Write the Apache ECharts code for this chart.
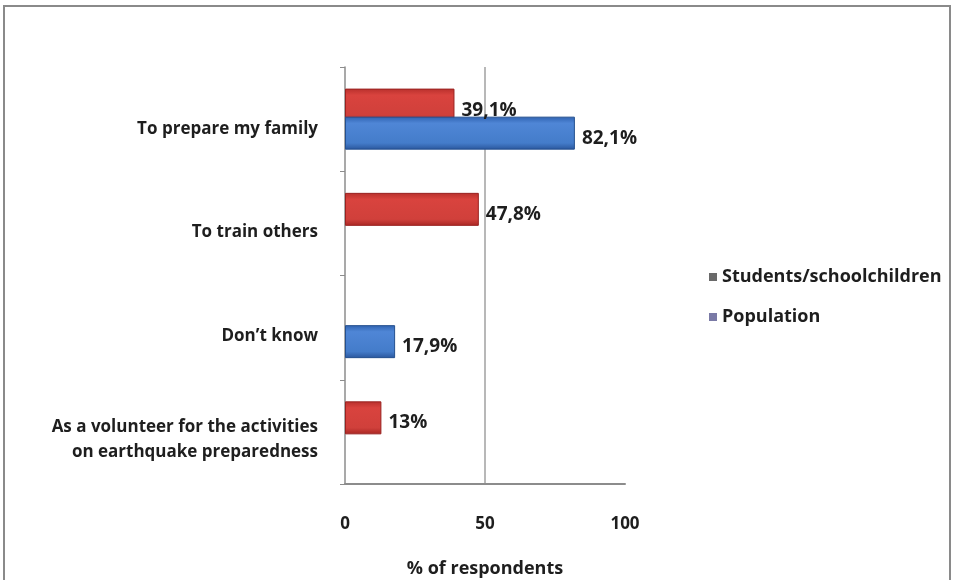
<!DOCTYPE html>
<html>
<head>
<meta charset="utf-8">
<script src="https://cdn.jsdelivr.net/npm/echarts@6/dist/echarts.min.js"></script>
<style>
html, body { margin: 0; padding: 0; background: #fff; }
#frame { position: absolute; left: 3px; top: 5px; width: 944px; height: 600px; border: 2px solid #8a8a8a; border-bottom: none; }
#chart { position: absolute; left: 0; top: 0; width: 954px; height: 580px; }
</style>
</head>
<body>
<div id="frame"></div>
<div id="chart"></div>
<script>
var categories = ['To prepare my family', 'To train others', 'Don\u2019t know', 'As a volunteer for the activities\non earthquake preparedness'];
var students = [39.1, 47.8, null, 13];
var population = [82.1, null, 17.9, null];
var xTicks = [0, 50, 100];

var chart = echarts.init(document.getElementById('chart'));

function pct(p) {
	return String(p.value).replace('.', ',') + '%';
}

var font = '"Open Sans", Lato, sans-serif';
var ink = '#1e1e1e';

var option = {
	backgroundColor: 'transparent',
	animation: false,
	textStyle: { fontFamily: font },
	legend: [
		{
			orient: 'vertical',
			left: 704,
			top: 263,
			itemWidth: 8,
			itemHeight: 8,
			icon: 'rect',
			itemStyle: { color: '#6a6a6a', borderWidth: 0 },
			textStyle: { fontSize: 18, fontWeight: 'bold', color: ink, fontFamily: font },
			data: ['Students/schoolchildren']
		},
		{
			orient: 'vertical',
			left: 704,
			top: 303,
			itemWidth: 8,
			itemHeight: 8,
			icon: 'rect',
			itemStyle: { color: '#7a7aa6', borderWidth: 0 },
			textStyle: { fontSize: 18, fontWeight: 'bold', color: ink, fontFamily: font },
			data: ['Population']
		}
	],
	grid: [
		{ left: 345, right: 329, top: 67, bottom: 96, containLabel: false, outerBoundsMode: 'none' },
		{ left: 345, right: 329, top: 77, height: 414, containLabel: false, outerBoundsMode: 'none' }
	],
	xAxis: [
		{
			type: 'value',
			gridIndex: 0,
			min: 0,
			max: 100,
			interval: 50,
			axisLine: { show: true, lineStyle: { color: '#8c8c8c', width: 2 } },
			axisTick: { show: false },
			axisLabel: { margin: 32, fontSize: 17, fontWeight: 'bold', color: ink,
				formatter: function (v) { return xTicks.indexOf(v) >= 0 ? String(v) : ''; } },
			splitLine: { show: true, showMinLine: false, showMaxLine: false, lineStyle: { color: '#b8b8b8', width: 2 } },
			name: '% of respondents',
			nameLocation: 'middle',
			nameGap: 76,
			nameTextStyle: { fontSize: 18, fontWeight: 'bold', color: ink }
		},
		{ type: 'value', gridIndex: 1, min: 0, max: 100, show: false }
	],
	yAxis: [
		{
			type: 'category',
			gridIndex: 0,
			inverse: true,
			data: categories,
			axisLine: { show: true, lineStyle: { color: '#8c8c8c', width: 1.5 } },
			axisTick: { show: true, length: 5, lineStyle: { color: '#8c8c8c' } },
			axisLabel: { show: false }
		},
		{
			type: 'category',
			gridIndex: 1,
			inverse: true,
			data: categories,
			axisLine: { show: false },
			axisTick: { show: false },
			splitLine: { show: false },
			axisLabel: { margin: 27, fontSize: 17, fontWeight: 'bold', color: ink, lineHeight: 25, align: 'right' }
		}
	],
	series: [
		{
			name: 'Students/schoolchildren',
			type: 'bar',
			data: students,
			barWidth: 33,
			barGap: '-15%',
			itemStyle: {
				color: new echarts.graphic.LinearGradient(0, 0, 0, 1, [
					{ offset: 0, color: '#b8302c' },
					{ offset: 0.2, color: '#d9433e' },
					{ offset: 0.8, color: '#d0403b' },
					{ offset: 1, color: '#a82623' }
				]),
				borderColor: '#9a2220',
				borderWidth: 1
			},
			label: { show: true, position: 'right', distance: 7, offset: [0, 5], formatter: pct,
				fontSize: 19, fontWeight: 'bold', color: ink }
		},
		{
			name: 'Population',
			type: 'bar',
			data: population,
			barWidth: 33,
			itemStyle: {
				color: new echarts.graphic.LinearGradient(0, 0, 0, 1, [
					{ offset: 0, color: '#2f62b0' },
					{ offset: 0.2, color: '#4f86d6' },
					{ offset: 0.8, color: '#447cca' },
					{ offset: 1, color: '#2a569c' }
				]),
				borderColor: '#24508f',
				borderWidth: 1
			},
			label: { show: true, position: 'right', distance: 7, offset: [0, 5], formatter: pct,
				fontSize: 19, fontWeight: 'bold', color: ink }
		}
	]
};

chart.setOption(option);
</script>
</body>
</html>
